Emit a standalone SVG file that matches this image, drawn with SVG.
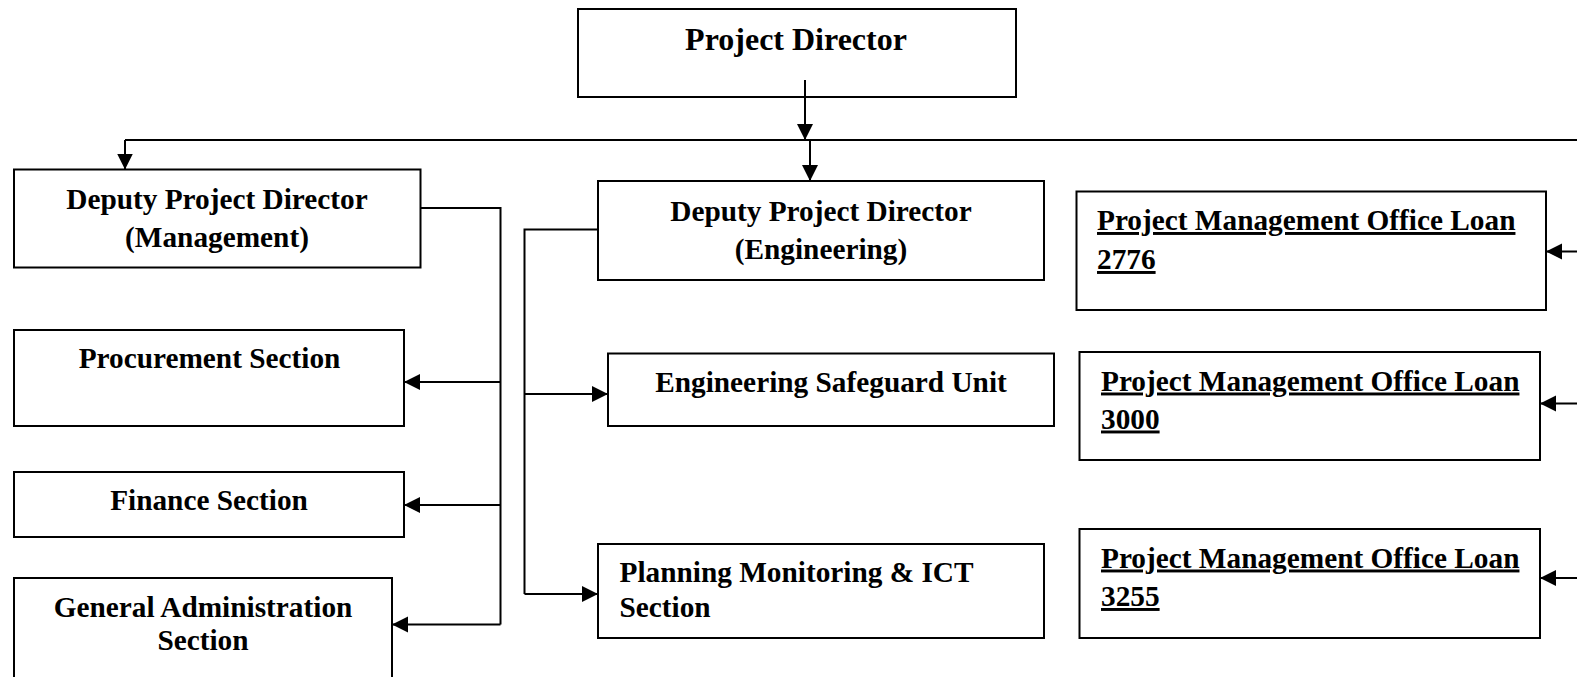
<svg xmlns="http://www.w3.org/2000/svg" width="1577" height="677" viewBox="0 0 1577 677">
<style>
.box{fill:#fff;stroke:#000;stroke-width:2}
.t{font-family:"Liberation Serif","Times New Roman",serif;font-weight:bold;font-size:29.3px;fill:#000}
.c{text-anchor:middle}
.u{text-decoration:underline}
.ln{fill:none;stroke:#000;stroke-width:2}
</style>
<defs>
<marker id="ah" markerUnits="userSpaceOnUse" markerWidth="17" markerHeight="17" refX="16" refY="8" orient="auto" viewBox="0 0 17 17">
<path d="M0,0 L16,8 L0,16 z" fill="#000"/>
</marker>
</defs>
<rect width="1577" height="677" fill="#fff"/>
<g id="n-pd">
<rect class="box" x="578" y="9" width="438" height="88"/>
<text class="t c" x="796" y="50" style="font-size:32px">Project Director</text>
</g>
<g id="n-dpd-mgmt">
<rect class="box" x="14" y="169.5" width="406.5" height="98"/>
<text class="t c" x="217" y="209">Deputy Project Director</text>
<text class="t c" x="217" y="247">(Management)</text>
</g>
<g id="n-dpd-eng">
<rect class="box" x="598" y="181" width="446" height="99"/>
<text class="t c" x="821" y="221">Deputy Project Director</text>
<text class="t c" x="821" y="258.5">(Engineering)</text>
</g>
<g id="n-pmo-2776">
<rect class="box" x="1076.5" y="191.5" width="469.5" height="118.5"/>
<text class="t u" x="1097" y="230">Project Management Office Loan</text>
<text class="t u" x="1097" y="269">2776</text>
</g>
<g id="n-pmo-3000">
<rect class="box" x="1079.5" y="352" width="460.5" height="108"/>
<text class="t u" x="1101" y="390.5">Project Management Office Loan</text>
<text class="t u" x="1101" y="428.5">3000</text>
</g>
<g id="n-pmo-3255">
<rect class="box" x="1079.5" y="529" width="460.5" height="109"/>
<text class="t u" x="1101" y="567.5">Project Management Office Loan</text>
<text class="t u" x="1101" y="606">3255</text>
</g>
<g id="n-procurement">
<rect class="box" x="14" y="330" width="390" height="96"/>
<text class="t c" x="209.5" y="368">Procurement Section</text>
</g>
<g id="n-finance">
<rect class="box" x="14" y="472" width="390" height="65"/>
<text class="t c" x="209" y="510">Finance Section</text>
</g>
<g id="n-genadmin">
<rect class="box" x="14" y="578" width="378" height="115"/>
<text class="t c" x="203" y="616.5">General Administration</text>
<text class="t c" x="203" y="650">Section</text>
</g>
<g id="n-esu">
<rect class="box" x="608" y="353.5" width="446" height="72.5"/>
<text class="t c" x="831" y="392">Engineering Safeguard Unit</text>
</g>
<g id="n-pmict">
<rect class="box" x="598" y="544" width="446" height="94"/>
<text class="t" x="619.5" y="582">Planning Monitoring &amp; ICT</text>
<text class="t" x="619.5" y="616.5">Section</text>
</g>
<g id="connectors">
<path class="ln" d="M805 80 V140" marker-end="url(#ah)"/>
<path class="ln" d="M125 140 H1577"/>
<path class="ln" d="M125 140 V169.5" marker-end="url(#ah)"/>
<path class="ln" d="M810 140 V181" marker-end="url(#ah)"/>
<path class="ln" d="M420.5 208 H500.5 V624.5"/>
<path class="ln" d="M500.5 382 H404" marker-end="url(#ah)"/>
<path class="ln" d="M500.5 505 H404" marker-end="url(#ah)"/>
<path class="ln" d="M500.5 624.5 H392" marker-end="url(#ah)"/>
<path class="ln" d="M598 229.5 H524.5 V594"/>
<path class="ln" d="M524.5 394 H608" marker-end="url(#ah)"/>
<path class="ln" d="M524.5 594 H598" marker-end="url(#ah)"/>
<path class="ln" d="M1577 251.5 H1546" marker-end="url(#ah)"/>
<path class="ln" d="M1577 403.5 H1540" marker-end="url(#ah)"/>
<path class="ln" d="M1577 578 H1540" marker-end="url(#ah)"/>
</g>
</svg>
